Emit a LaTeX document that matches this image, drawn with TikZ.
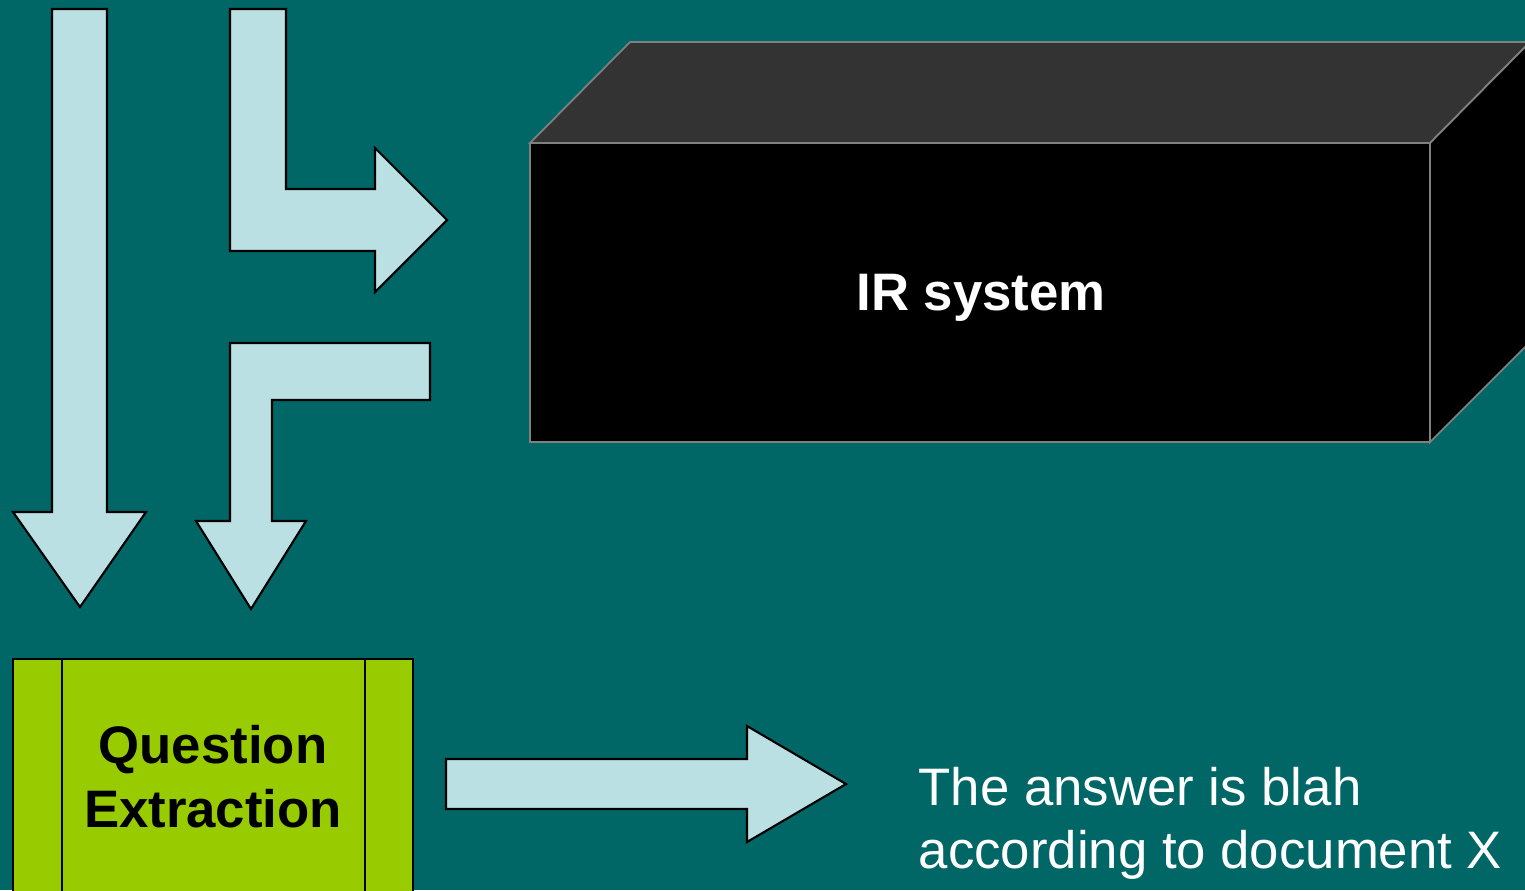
\documentclass[tikz,border=0pt]{standalone}
\usepackage{fontspec}
\setmainfont{Liberation Sans}
\definecolor{bgteal}{RGB}{0,102,102}
\definecolor{arrowblue}{RGB}{187,224,227}
\definecolor{qgreen}{RGB}{153,204,0}
\definecolor{boxtop}{RGB}{51,51,51}
\definecolor{boxedge}{RGB}{128,128,128}
\tikzset{
  blockarrow/.style={fill=arrowblue,draw=black,line width=0.6pt,line join=miter},
  boxface/.style={draw=boxedge,line width=0.5pt,line join=miter},
  labeltext/.style={inner sep=0pt,font=\fontsize{15pt}{18pt}\selectfont},
  boldtext/.style={inner sep=0pt,font=\fontsize{15pt}{18pt}\selectfont\bfseries},
}
\begin{document}
\begin{tikzpicture}[x=0.01cm,y=-0.01cm]
\useasboundingbox (0,0) rectangle (1525,890);
\fill[bgteal] (0,0) rectangle (1525,890);
\clip (0,0) rectangle (1525,890);
% straight down arrow
\draw[blockarrow] (52,9) -- (107,9) -- (107,512) -- (146,512) -- (80,607) -- (13,512) -- (52,512) -- cycle;
% bent arrow to the right
\draw[blockarrow] (230,9) -- (286,9) -- (286,189) -- (375,189) -- (375,148) -- (447,220) -- (375,292) -- (375,251) -- (230,251) -- cycle;
% bent arrow downwards
\draw[blockarrow] (430,343) -- (430,400) -- (272,400) -- (272,521) -- (306,521) -- (251,609) -- (196,521) -- (230,521) -- (230,343) -- cycle;
% IR system box
\draw[boxface,fill=boxtop] (530,143) -- (630,42) -- (1530,42) -- (1430,143) -- cycle;
\draw[boxface,fill=black] (1430,143) -- (1530,42) -- (1530,342) -- (1430,442) -- cycle;
\draw[boxface,fill=black] (530,143) rectangle (1430,442);
\node[boldtext,text=white,anchor=base] (ir) at (981,310) {IR system};
% Question extraction box
\draw[fill=qgreen,draw=black,line width=0.6pt] (13,659) rectangle (413,900);
\draw[black,line width=0.6pt] (62,659) -- (62,900) (365,659) -- (365,900);
\node[boldtext,anchor=base] (q1) at (213,763) {Question};
\node[boldtext,anchor=base] (q2) at (213,827) {Extraction};
% answer arrow
\draw[blockarrow] (446,759) -- (747,759) -- (747,726) -- (846,784) -- (747,842) -- (747,809) -- (446,809) -- cycle;
\node[labeltext,text=white,anchor=base west] (a1) at (918,805) {The answer is blah};
\node[labeltext,text=white,anchor=base west] (a2) at (918,868) {according to document X};
\end{tikzpicture}
\end{document}
